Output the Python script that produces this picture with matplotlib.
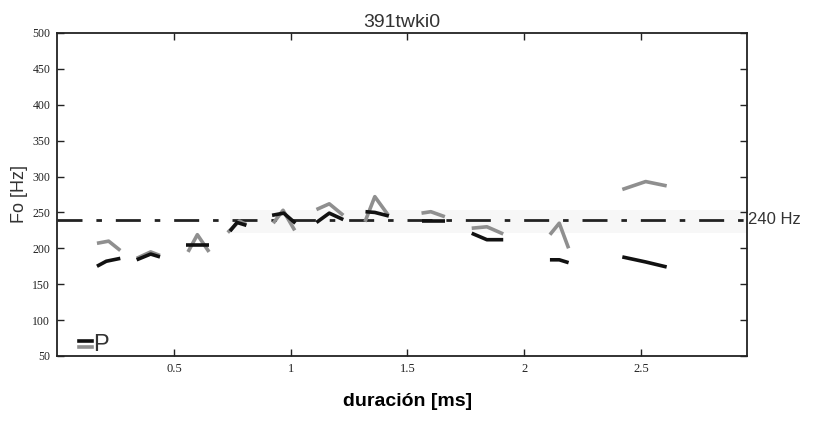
import matplotlib
matplotlib.use("Agg")
import matplotlib.pyplot as plt
import numpy as np

# Time (ms) and F0 (Hz) for each syllable contour
black_t = [
    [0.17, 0.21, 0.27],
    [0.34, 0.40, 0.44],
    [0.55, 0.60, 0.65],
    [0.74, 0.77, 0.81],
    [0.92, 0.97, 1.02],
    [1.11, 1.165, 1.225],
    [1.32, 1.36, 1.42],
    [1.56, 1.60, 1.66],
    [1.775, 1.84, 1.91],
    [2.11, 2.15, 2.19],
    [2.42, 2.52, 2.61],
]
black_f0 = [
    [175, 182, 186],
    [184, 192, 188],
    [205, 205, 205],
    [224, 236, 232],
    [246, 249, 235],
    [236, 249, 240],
    [251, 250, 245],
    [238.5, 238.5, 238.5],
    [221, 212, 212],
    [184, 184, 180],
    [188, 181, 174],
]
gray_t = [
    [0.17, 0.22, 0.27],
    [0.34, 0.40, 0.44],
    [0.56, 0.60, 0.65],
    [0.73, 0.78, 0.81],
    [0.925, 0.967, 1.017],
    [1.11, 1.165, 1.225],
    [1.318, 1.36, 1.418],
    [1.56, 1.60, 1.66],
    [1.775, 1.84, 1.91],
    [2.11, 2.15, 2.19],
    [2.42, 2.52, 2.61],
]
gray_f0 = [
    [207, 210, 197],
    [186, 195, 190],
    [195, 219, 195],
    [222, 238, 233],
    [235, 253, 225],
    [254, 262, 246],
    [237, 272, 246],
    [249, 251, 244],
    [228, 230, 220],
    [219, 235, 200],
    [282, 293, 287],
]
ref_hz = 240
xticks = [0.5, 1, 1.5, 2, 2.5]
xticklabels = ["0.5", "1", "1.5", "2", "2.5"]
yticks = [50, 100, 150, 200, 250, 300, 350, 400, 450, 500]

fig = plt.figure(figsize=(8.18, 4.42), dpi=100)
ax = fig.add_axes([0.07, 0.1946, 0.8432, 0.7308])
ax.set_xlim(0, 2.954)
ax.set_ylim(50, 500)

# faint background band
ax.axhspan(222, 254, xmin=0.25, xmax=1.0, color="#f7f7f7", zorder=0, lw=0)

ax.axhline(ref_hz, color="#222222", lw=2, dashes=(9, 5, 2, 5), zorder=2)

for t, f in zip(gray_t, gray_f0):
    ax.plot(t, f, color="#8f8f8f", lw=2.6, solid_capstyle="butt", zorder=3)
for t, f in zip(black_t, black_f0):
    ax.plot(t, f, color="#111111", lw=2.6, solid_capstyle="butt", zorder=4)

ax.set_xticks(xticks)
ax.set_xticklabels(xticklabels, family="Liberation Serif", fontsize=9)
ax.set_yticks(yticks)
ax.set_yticklabels([str(v) for v in yticks], family="Liberation Serif", fontsize=8.5)
ax.tick_params(direction="in", length=5, width=1, top=True, right=True, pad=5,
               colors="#222222")
for s in ax.spines.values():
    s.set_linewidth(1.3)
    s.set_color("#222222")

ax.set_title("391twki0", fontsize=14, family="Liberation Sans", pad=4, color="#333333")
ax.set_ylabel("Fo [Hz]", fontsize=13, family="Liberation Sans", labelpad=3, color="#333333")
fig.text(0.498, 0.092, "duración [ms]", ha="center", va="center",
         fontsize=14, fontweight="bold", family="Liberation Sans")
ax.text(1.002, ref_hz, "240 Hz", transform=ax.get_yaxis_transform(),
        ha="left", va="center", fontsize=12, family="Liberation Sans", color="#333333")

# small key in lower-left
ax.plot([0.095, 0.148], [71, 71], color="#111111", lw=2.6)
ax.plot([0.095, 0.148], [62, 62], color="#8f8f8f", lw=2.6)
ax.text(0.155, 50, "P", fontsize=17, family="Liberation Sans", ha="left", va="bottom",
        color="#333333")

fig.savefig("out.png", dpi=100)
